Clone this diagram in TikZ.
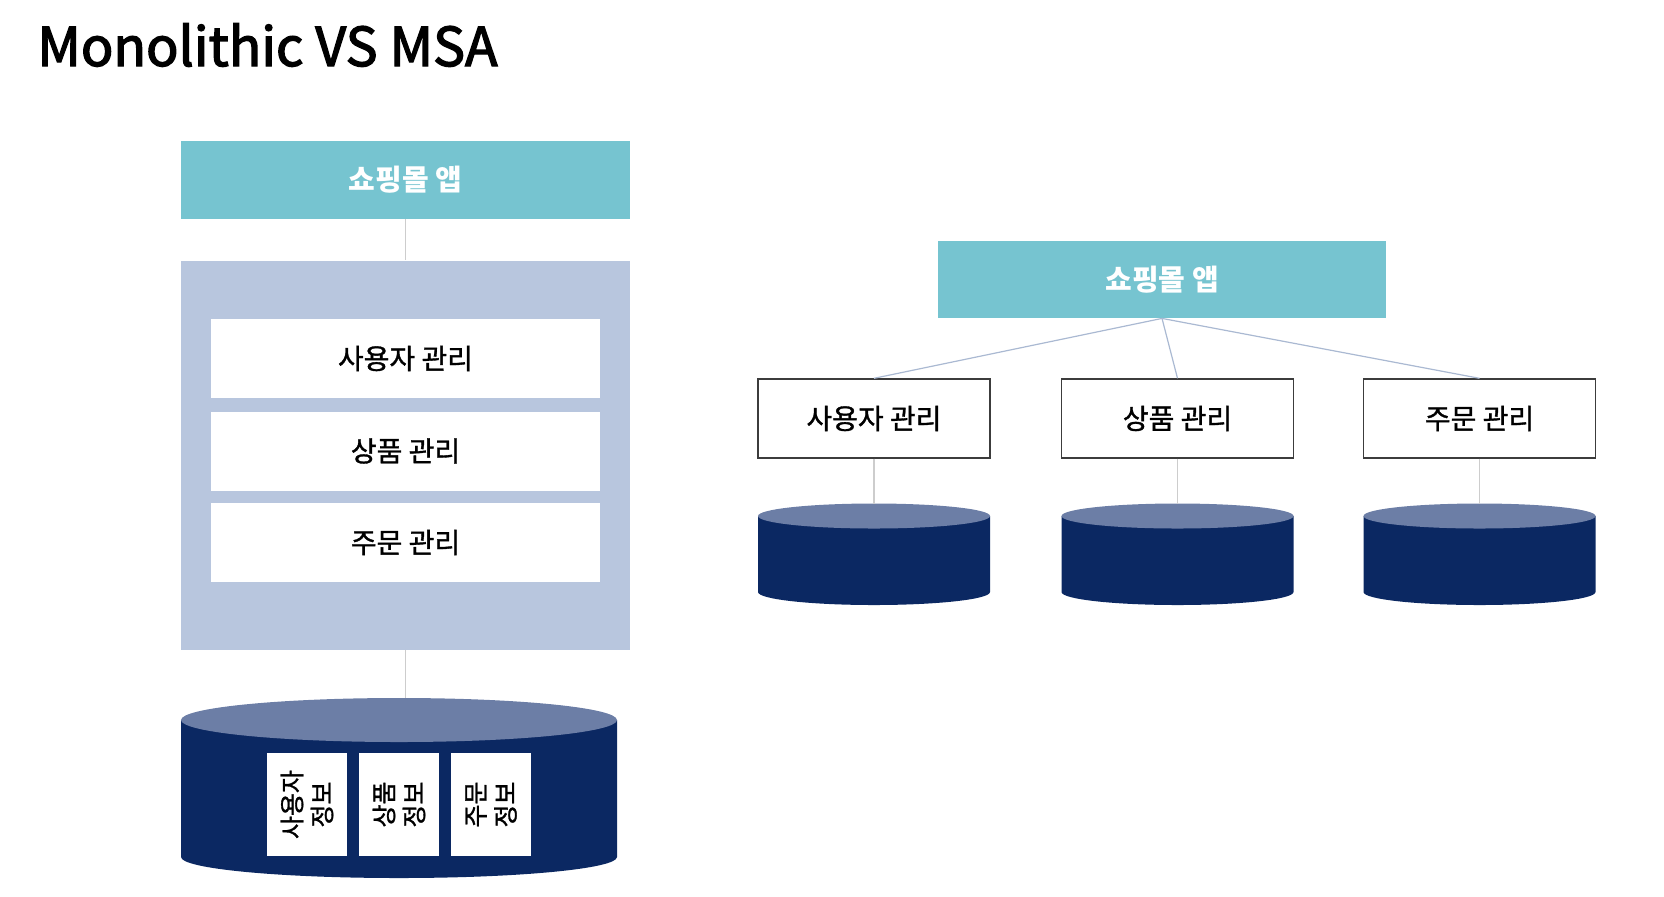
\documentclass[tikz,border=0pt]{standalone}
\usepackage{fontspec}
\setmainfont{Noto Sans CJK KR}
\newfontfamily\titlefont{Noto Sans CJK KR}[FakeBold=2.5]
\newfontfamily\krmed{Noto Sans CJK KR}[FakeBold=1.2]
\usetikzlibrary{positioning}

\definecolor{appteal}{RGB}{118,196,208}
\definecolor{monogray}{RGB}{184,198,222}
\definecolor{dbnavy}{RGB}{11,40,98}
\definecolor{dbtop}{RGB}{108,126,166}
\definecolor{linkgray}{RGB}{205,205,205}
\definecolor{linkblue}{RGB}{170,185,210}
\definecolor{boxline}{RGB}{60,60,60}

\tikzset{
  appbox/.style={fill=appteal,text=white,inner sep=0pt,font=\fontsize{14.5}{16}\selectfont\bfseries},
  modbox/.style={fill=white,inner sep=0pt,minimum width=194.5pt,minimum height=39.5pt,font=\krmed\fontsize{14}{16}\selectfont},
  svcbox/.style={draw=boxline,line width=0.7pt,fill=white,inner sep=0pt,minimum width=116pt,minimum height=39.5pt,font=\krmed\fontsize{14}{16}\selectfont},
  recbox/.style={fill=white,inner sep=0pt,rotate=90,minimum width=51.5pt,minimum height=40pt,align=center,font=\krmed\fontsize{12.5}{15}\selectfont},
  link/.style={draw=linkgray,line width=0.6pt},
  svclink/.style={draw=linkblue,line width=0.6pt}
}

\begin{document}
\begin{tikzpicture}[x=0.5pt,y=0.5pt,yscale=-1,xscale=1]
\useasboundingbox (0,0) rectangle (1664,896);

% Text Node
\node[anchor=base west,inner sep=0pt,font=\titlefont\fontsize{26.8}{32}\selectfont] (title) at (37,66) {Monolithic VS MSA};

%Shape: Monolithic app
\node[appbox,minimum width=224.5pt,minimum height=39pt] (appL) at (405.5,180) {쇼핑몰 앱};
\node[fill=monogray,inner sep=0pt,minimum width=224.5pt,minimum height=194.5pt] (mono) at (405.5,455) {};
\node[modbox] (modUser) at (405.5,358.5) {사용자 관리};
\node[modbox] (modProd) at (405.5,451) {상품 관리};
\node[modbox] (modOrder) at (405.5,542.5) {주문 관리};

%Shape: Monolithic database
\fill[dbnavy] (181,720) -- (181,857) arc[start angle=180,end angle=0,x radius=218,y radius=21] -- (617,720) -- cycle;
\fill[dbtop] (399,720) ellipse [x radius=218,y radius=22];
\coordinate (dbL) at (405.5,698);
\node[recbox] (recUser) at (307,804.5) {사용자\\정보};
\node[recbox] (recProd) at (399,804.5) {상품\\정보};
\node[recbox] (recOrder) at (491,804.5) {주문\\정보};

\draw[link] (appL.south) -- (mono.north);
\draw[link] (mono.south) -- (dbL);

%Shape: MSA app
\node[appbox,minimum width=224pt,minimum height=38.5pt] (appR) at (1162,279.5) {쇼핑몰 앱};
\node[svcbox] (svcUser) at (874,418.5) {사용자 관리};
\node[svcbox] (svcProd) at (1177.5,418.5) {상품 관리};
\node[svcbox] (svcOrder) at (1479.5,418.5) {주문 관리};

\draw[svclink] (appR.south) -- (svcUser.north);
\draw[svclink] (appR.south) -- (svcProd.north);
\draw[svclink] (appR.south) -- (svcOrder.north);

%Shape: MSA databases
\fill[dbnavy] (758,516) -- (758,592) arc[start angle=180,end angle=0,x radius=116,y radius=13] -- (990,516) -- cycle;
\fill[dbtop] (874,516) ellipse [x radius=116,y radius=12.5];
\coordinate (dbUser) at (874,503.5);
\fill[dbnavy] (1061.5,516) -- (1061.5,592) arc[start angle=180,end angle=0,x radius=116,y radius=13] -- (1293.5,516) -- cycle;
\fill[dbtop] (1177.5,516) ellipse [x radius=116,y radius=12.5];
\coordinate (dbProd) at (1177.5,503.5);
\fill[dbnavy] (1363.5,516) -- (1363.5,592) arc[start angle=180,end angle=0,x radius=116,y radius=13] -- (1595.5,516) -- cycle;
\fill[dbtop] (1479.5,516) ellipse [x radius=116,y radius=12.5];
\coordinate (dbOrder) at (1479.5,503.5);

\draw[link] (svcUser.south) -- (dbUser);
\draw[link] (svcProd.south) -- (dbProd);
\draw[link] (svcOrder.south) -- (dbOrder);

\end{tikzpicture}
\end{document}
